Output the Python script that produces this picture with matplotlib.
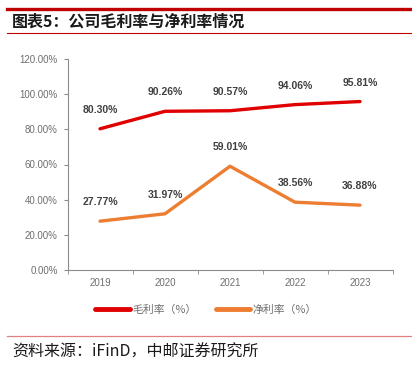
import matplotlib
matplotlib.use('Agg')
from matplotlib import pyplot as plt
from matplotlib.lines import Line2D

plt.rcParams['font.family'] = ['Liberation Sans', 'Noto Sans CJK SC', 'DejaVu Sans']

# data
years = ['2019', '2020', '2021', '2022', '2023']
gross_margin = [80.30, 90.26, 90.57, 94.06, 95.81]
net_margin = [27.77, 31.97, 59.01, 38.56, 36.88]
yticks = [0, 20, 40, 60, 80, 100, 120]

red = '#E00000'
orange = '#ED7D31'
grey = '#6E6E6E'
axis_grey = '#8C8C8C'

fig = plt.figure(figsize=(4.12, 3.68), dpi=100)

# header / footer decoration
fig.add_artist(Line2D([7/412, 1], [1 - 8.5/368] * 2, color='#C00000', lw=2.4))
fig.add_artist(Line2D([7/412, 1], [1 - 33/368] * 2, color='#C00000', lw=0.8))
fig.add_artist(Line2D([7/412, 1], [1 - 336/368] * 2, color='#E08080', lw=0.9))
fig.text(12/412, 1 - 22/368, '图表5：公司毛利率与净利率情况', fontsize=11.5,
         fontweight='bold', color='#1a1a1a', va='center',
         family=['Noto Sans CJK SC', 'DejaVu Sans'])
fig.text(12/412, 1 - 352/368, '资料来源：iFinD，中邮证券研究所', fontsize=11.5,
         color='#1a1a1a', va='center', family=['Noto Sans CJK SC', 'DejaVu Sans'])

ax = fig.add_axes([67.5/412, 1 - 270/368, 325/412, 211/368])
x = range(len(years))
ax.plot(x, gross_margin, color=red, lw=2.4, solid_capstyle='round', label='毛利率（%）')
ax.plot(x, net_margin, color=orange, lw=2.4, solid_capstyle='round', label='净利率（%）')

for xs, vals in [(x, gross_margin), (x, net_margin)]:
    for xi, v in zip(xs, vals):
        ax.annotate(f'{v:.2f}%', (xi, v), xytext=(0, 10), textcoords='offset points',
                    ha='center', va='bottom', fontsize=7.5, fontweight='bold', color='#404040')

ax.set_xlim(-0.5, len(years) - 0.5)
ax.set_ylim(0, 120)
ax.set_yticks(yticks)
ax.set_yticklabels([f'{t:.2f}%' for t in yticks])
ax.set_xticks(x)
ax.set_xticklabels(years)
ax.set_xticks([i - 0.5 for i in range(len(years) + 1)], minor=True)
ax.tick_params(axis='x', which='major', length=0, pad=6)
ax.tick_params(axis='x', which='minor', length=3, color=axis_grey, direction='out')
ax.tick_params(axis='y', length=3, color=axis_grey, pad=4)
ax.tick_params(labelsize=7, labelcolor=grey)
for s in ['top', 'right']:
    ax.spines[s].set_visible(False)
for s in ['left', 'bottom']:
    ax.spines[s].set_color(axis_grey)
    ax.spines[s].set_linewidth(0.8)

leg = fig.legend(loc='center', bbox_to_anchor=(0.5, 1 - 310/368), ncol=2, frameon=False,
                 handlelength=3.2, handletextpad=0.2, columnspacing=1.8,
                 prop={'family': ['Noto Sans CJK SC', 'DejaVu Sans'], 'size': 7.8})
for t in leg.get_texts():
    t.set_color(grey)
for h in leg.legend_handles:
    h.set_linewidth(3.5)

fig.savefig('out.png', dpi=100)
